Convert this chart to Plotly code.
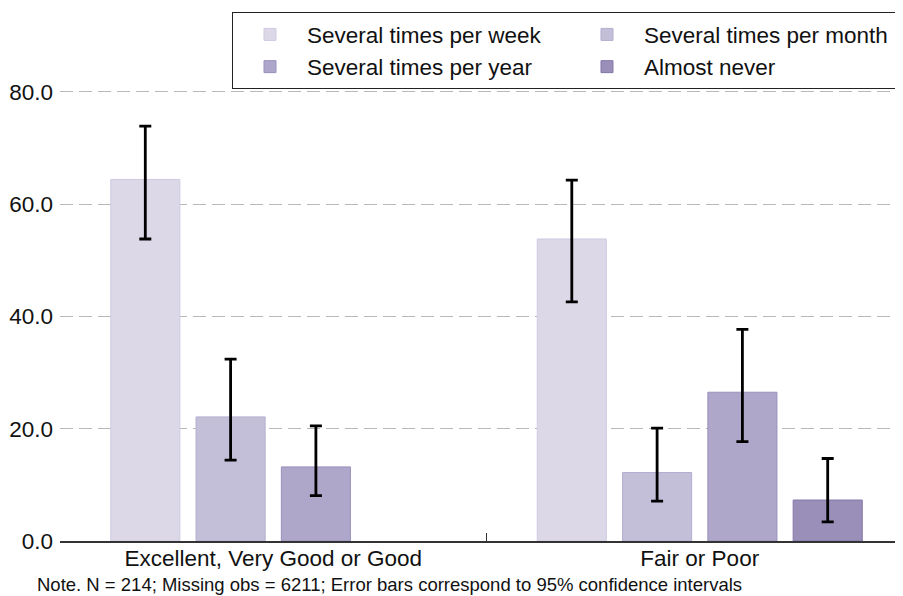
import plotly.graph_objects as go

categories = ["Excellent, Very Good or Good", "Fair or Poor"]
series = ["Several times per week", "Several times per month",
          "Several times per year", "Almost never"]
values = {
    "Several times per week": [64.4, 53.8],
    "Several times per month": [22.1, 12.2],
    "Several times per year": [13.2, 26.5],
    "Almost never": [None, 7.3],
}
ci_low = {
    "Several times per week": [53.8, 42.6],
    "Several times per month": [14.4, 7.1],
    "Several times per year": [8.1, 17.7],
    "Almost never": [None, 3.4],
}
ci_high = {
    "Several times per week": [73.9, 64.3],
    "Several times per month": [32.4, 20.1],
    "Several times per year": [20.5, 37.7],
    "Almost never": [None, 14.7],
}
y_ticks = [0, 20, 40, 60, 80]
note = "Note. N = 214; Missing obs = 6211; Error bars correspond to 95% confidence intervals"

fills = ["#dcd8e8", "#c4bfd8", "#aea7c9", "#9a8fb8"]
edges = ["#cfcae2", "#b5aed0", "#9990bd", "#8477aa"]

FONT = "Liberation Sans, Arial, sans-serif"

fig = go.Figure()
for i, s in enumerate(series):
    v = values[s]
    up = [None if a is None else h - a for a, h in zip(v, ci_high[s])]
    dn = [None if a is None else a - l for a, l in zip(v, ci_low[s])]
    fig.add_bar(
        x=categories,
        y=v,
        name=s,
        marker=dict(color=fills[i], line=dict(color=edges[i], width=1)),
        error_y=dict(type="data", symmetric=False, array=up, arrayminus=dn,
                     color="black", thickness=2.8, width=6),
    )

# page body has an 8px margin, so the figure is laid out 8px up/left
fig.update_layout(
    width=903,
    height=596,
    barmode="group",
    bargap=0.2,
    bargroupgap=0.19,
    paper_bgcolor="white",
    plot_bgcolor="white",
    font=dict(family=FONT, size=22.5, color="#111111"),
    margin=dict(l=52, r=0, t=62, b=63, autoexpand=False),
    legend=dict(
        orientation="h",
        x=0.9974, xanchor="right",
        y=1.123, yanchor="top",
        entrywidth=258, entrywidthmode="pixels",
        itemwidth=64,
        bordercolor="#222222", borderwidth=1.2,
        bgcolor="white",
        font=dict(size=22.5),
        traceorder="normal",
    ),
    annotations=[dict(
        text=note, xref="paper", yref="paper", x=-0.0294, y=-0.093,
        xanchor="left", yanchor="middle", showarrow=False,
        font=dict(size=18.5, color="#111111"),
    )],
)
fig.update_xaxes(
    range=[-0.5, 1.4953],
    showline=True, linecolor="#333333", linewidth=1.5,
    ticks="inside", tickson="boundaries", ticklen=8, tickcolor="#333333",
    showgrid=False, tickfont=dict(size=22.5), ticklabelstandoff=-4,
)
fig.update_yaxes(
    range=[0, 83.9],
    tickvals=y_ticks, tickformat=".1f",
    showgrid=True, gridcolor="#b8b8b8", gridwidth=1.2, griddash="13px,6px",
    zeroline=False, showline=False, ticks="", ticklabelstandoff=6,
    tickfont=dict(size=22.5),
)

fig.write_html("out.html")
